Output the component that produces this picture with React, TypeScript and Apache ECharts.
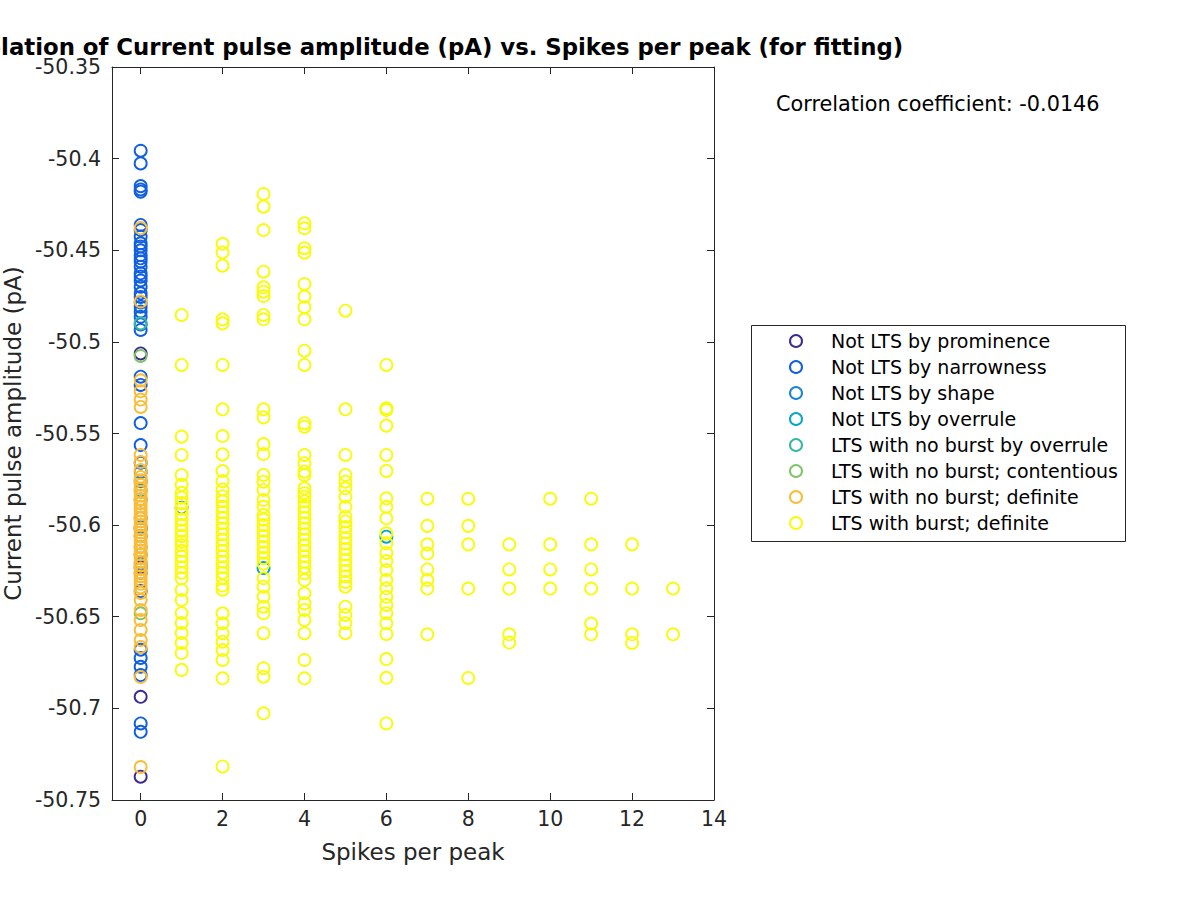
import React, { useEffect, useRef } from "react";
import * as echarts from "echarts";

const FONT = "'DejaVu Sans', sans-serif";
const INK = "#262626";

// Tick values
const xTicks = [0, 2, 4, 6, 8, 10, 12, 14];

// Legend / series names
const seriesNames = [
  "Not LTS by prominence",
  "Not LTS by narrowness",
  "Not LTS by shape",
  "Not LTS by overrule",
  "LTS with no burst by overrule",
  "LTS with no burst; contentious",
  "LTS with no burst; definite",
  "LTS with burst; definite",
];
const seriesColors = [
  "#3d2b90",
  "#0f5fe0",
  "#1b84d6",
  "#06a5cb",
  "#33b8a1",
  "#7fc46a",
  "#fbbc36",
  "#f9fb0e",
];

// Points as [spikes per peak, current pulse amplitude (pA)]
const prominencePts = [
  [0, -50.5063], [0, -50.602], [0, -50.623], [0, -50.6937], [0, -50.7373],
];
const narrownessAmps0 = [
  -50.3957, -50.4026, -50.415, -50.4168, -50.418, -50.4362, -50.439, -50.4425,
  -50.4462, -50.448, -50.45, -50.4526, -50.4544, -50.4562, -50.459, -50.4626,
  -50.4644, -50.4665, -50.4699, -50.4735, -50.4755, -50.4785, -50.4808, -50.4835,
  -50.4863, -50.4905, -50.4935, -50.519, -50.5235, -50.5443, -50.5563, -50.566,
  -50.576, -50.586, -50.596, -50.606, -50.616, -50.626, -50.636, -50.668,
  -50.6725, -50.6773, -50.6818, -50.7082, -50.7128,
];
const shapePts = [[0, -50.571], [0, -50.601], [0, -50.621], [1, -50.5905]];
const overrulePts = [[0, -50.581], [3, -50.6234], [6, -50.6063]];
const noBurstOverrulePts = [[0, -50.4899], [0, -50.612]];
const contentiousPts = [[0, -50.5077], [0, -50.6481]];
const noBurstDefiniteAmps0 = [
  -50.4379, -50.478, -50.521, -50.527, -50.5315, -50.5355, -50.5617, -50.5656,
  -50.5699, -50.5737, -50.5755, -50.578, -50.58, -50.582, -50.584, -50.586,
  -50.588, -50.59, -50.592, -50.594, -50.596, -50.598, -50.6, -50.602, -50.604,
  -50.606, -50.608, -50.61, -50.612, -50.614, -50.616, -50.618, -50.62, -50.622,
  -50.624, -50.626, -50.628, -50.63, -50.632, -50.634, -50.637, -50.6409,
  -50.6463, -50.6518, -50.6572, -50.6627, -50.6665, -50.6829, -50.732,
];
// LTS with burst; definite, by spikes per peak 1..13
const burst1 = [
  -50.4853, -50.5126, -50.5517, -50.5617, -50.5726, -50.578, -50.5824, -50.585,
  -50.588, -50.591, -50.594, -50.597, -50.6, -50.603, -50.606, -50.609, -50.611,
  -50.614, -50.617, -50.62, -50.623, -50.626, -50.629, -50.6354, -50.6409,
  -50.648, -50.6534, -50.6589, -50.6643, -50.6698, -50.679,
];
const burst2 = [
  -50.4465, -50.4512, -50.4584, -50.4877, -50.4899, -50.5126, -50.5368, -50.5514,
  -50.5614, -50.5705, -50.576, -50.5806, -50.5842, -50.587, -50.59, -50.593,
  -50.596, -50.599, -50.602, -50.605, -50.608, -50.611, -50.614, -50.617, -50.62,
  -50.623, -50.626, -50.629, -50.633, -50.6352, -50.6481, -50.6536, -50.659,
  -50.6636, -50.6682, -50.6736, -50.6836, -50.7317,
];
const burst3 = [
  -50.4193, -50.4262, -50.439, -50.4617, -50.4702, -50.4726, -50.475, -50.4853,
  -50.4877, -50.5368, -50.5412, -50.5558, -50.5612, -50.5726, -50.5763, -50.5808,
  -50.5863, -50.59, -50.5945, -50.597, -50.6, -50.603, -50.606, -50.609, -50.612,
  -50.615, -50.618, -50.621, -50.629, -50.6336, -50.6391, -50.6445, -50.6481,
  -50.659, -50.6781, -50.6827, -50.7027,
];
const burst4 = [
  -50.4353, -50.438, -50.4489, -50.4513, -50.4684, -50.4753, -50.4811, -50.4877,
  -50.5048, -50.5126, -50.5444, -50.5463, -50.5617, -50.5662, -50.5708, -50.5726,
  -50.5799, -50.5826, -50.5845, -50.587, -50.59, -50.593, -50.596, -50.599,
  -50.602, -50.605, -50.608, -50.611, -50.614, -50.617, -50.62, -50.623, -50.6263,
  -50.63, -50.6372, -50.6427, -50.6463, -50.6518, -50.659, -50.6736, -50.6836,
];
const burst5 = [
  -50.483, -50.5368, -50.5617, -50.5726, -50.5763, -50.5799, -50.5845, -50.59,
  -50.5954, -50.598, -50.601, -50.604, -50.607, -50.61, -50.613, -50.616, -50.619,
  -50.622, -50.625, -50.628, -50.631, -50.6336, -50.6445, -50.649, -50.6536,
  -50.659,
];
const burst6 = [
  -50.5126, -50.5362, -50.5372, -50.5457, -50.5617, -50.5704, -50.5854, -50.59,
  -50.5963, -50.6045, -50.6099, -50.6152, -50.6196, -50.6245, -50.63, -50.6345,
  -50.6391, -50.6436, -50.6481, -50.6536, -50.6594, -50.6731, -50.6833, -50.7082,
];
const burst7 = [-50.5856, -50.6004, -50.6105, -50.6155, -50.6242, -50.63, -50.6346, -50.6596];
const burst8 = [-50.5856, -50.6004, -50.6105, -50.6346, -50.6834];
const burst9 = [-50.6105, -50.6242, -50.6346, -50.6596, -50.6641];
const burst10 = [-50.5856, -50.6105, -50.6242, -50.6346];
const burst11 = [-50.5856, -50.6105, -50.6242, -50.6346, -50.6537, -50.6596];
const burst12 = [-50.6105, -50.6346, -50.6596, -50.6643];
const burst13 = [-50.6346, -50.6596];
const burstBySpikes = [
  burst1, burst2, burst3, burst4, burst5, burst6, burst7,
  burst8, burst9, burst10, burst11, burst12, burst13,
];

const at = (x: number, ys: number[]) => ys.map((y) => [x, y]);
const burstPts = burstBySpikes.flatMap((ys, i) => at(i + 1, ys));

const seriesData = [
  prominencePts,
  at(0, narrownessAmps0),
  shapePts,
  overrulePts,
  noBurstOverrulePts,
  contentiousPts,
  at(0, noBurstDefiniteAmps0),
  burstPts,
];

export default function App() {
  const ref = useRef<HTMLDivElement>(null);
  useEffect(() => {
    const chart = echarts.init(ref.current!, null, { renderer: "svg" });
    const fmtY = (v: number) => String(+v.toFixed(2));
    chart.setOption({
      animation: false,
      backgroundColor: "#ffffff",
      textStyle: { fontFamily: FONT },
      grid: {
        left: 112,
        right: 486,
        top: 67,
        bottom: 100,
        containLabel: false,
        outerBoundsMode: "none",
      },
      xAxis: [
        {
          type: "value",
          position: "bottom",
          min: -0.7,
          max: 14,
          name: "Spikes per peak",
          nameLocation: "middle",
          nameGap: 40,
          nameTextStyle: { fontSize: 23, color: INK, fontFamily: FONT },
          axisLine: { show: true, onZero: false, lineStyle: { color: INK, width: 1 } },
          axisTick: { show: true, inside: true, length: 7, customValues: xTicks, lineStyle: { color: INK } },
          axisLabel: { customValues: xTicks, fontSize: 20.5, color: INK, margin: 8, fontFamily: FONT },
          splitLine: { show: false },
        },
        {
          type: "value",
          position: "top",
          min: -0.7,
          max: 14,
          axisLine: { show: true, onZero: false, lineStyle: { color: INK, width: 1 } },
          axisTick: { show: true, inside: true, length: 7, customValues: xTicks, lineStyle: { color: INK } },
          axisLabel: { show: false },
          splitLine: { show: false },
        },
      ],
      yAxis: [
        {
          type: "value",
          position: "left",
          min: -50.75,
          max: -50.35,
          interval: 0.05,
          name: "Current pulse amplitude (pA)",
          nameLocation: "middle",
          nameGap: 81,
          nameTextStyle: { fontSize: 23, color: INK, fontFamily: FONT },
          axisLine: { show: true, onZero: false, lineStyle: { color: INK, width: 1 } },
          axisTick: { show: true, inside: true, length: 7, lineStyle: { color: INK } },
          axisLabel: { fontSize: 20.5, color: INK, margin: 11, formatter: fmtY, fontFamily: FONT },
          splitLine: { show: false },
        },
        {
          type: "value",
          position: "right",
          min: -50.75,
          max: -50.35,
          interval: 0.05,
          axisLine: { show: true, onZero: false, lineStyle: { color: INK, width: 1 } },
          axisTick: { show: true, inside: true, length: 7, lineStyle: { color: INK } },
          axisLabel: { show: false },
          splitLine: { show: false },
        },
      ],
      legend: {
        orient: "vertical",
        left: 789,
        top: 331,
        itemWidth: 60,
        itemHeight: 12,
        itemGap: 6,
        padding: 0,
        textStyle: { fontSize: 19, color: "#000", lineHeight: 20, fontFamily: FONT },
        data: seriesNames,
      },
      graphic: [
        {
          type: "rect",
          z: -1,
          shape: { x: 751.5, y: 325.5, width: 374, height: 216 },
          style: { fill: "#fff", stroke: INK, lineWidth: 1 },
        },
        {
          type: "text",
          x: 417,
          y: 47,
          style: {
            text: "Correlation of Current pulse amplitude (pA) vs. Spikes per peak (for fitting)",
            font: `bold 22.8px ${FONT}`,
            fill: "#000",
            textAlign: "center",
            textVerticalAlign: "middle",
          },
        },
        {
          type: "text",
          x: 776,
          y: 104,
          style: {
            text: "Correlation coefficient: -0.0146",
            font: `20.8px ${FONT}`,
            fill: "#000",
            textAlign: "left",
            textVerticalAlign: "middle",
          },
        },
      ],
      series: seriesNames.map((name, i) => ({
        name,
        type: "scatter",
        xAxisIndex: 0,
        yAxisIndex: 0,
        symbol: "circle",
        symbolSize: 12,
        data: seriesData[i],
        itemStyle: { color: "transparent", borderColor: seriesColors[i], borderWidth: 1.9, opacity: 1 },
        emphasis: { disabled: true },
        z: 2 + i,
      })),
    });
    return () => chart.dispose();
  }, []);
  return (
    <div
      ref={ref}
      style={{ position: "fixed", left: 0, top: 0, width: 1200, height: 900 }}
    />
  );
}
